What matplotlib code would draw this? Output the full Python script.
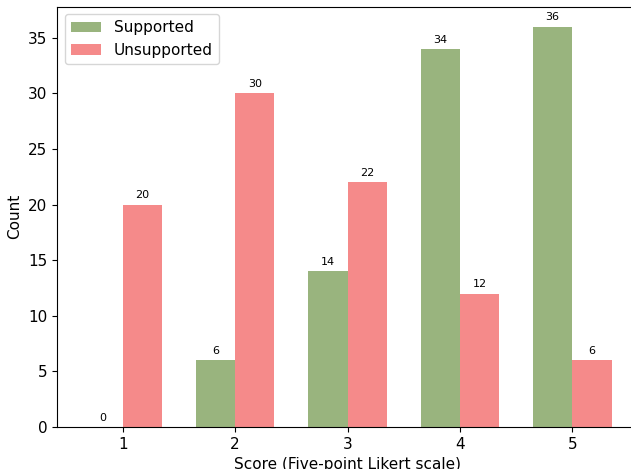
import matplotlib.pyplot as plt
import numpy as np

scores = [1, 2, 3, 4, 5]
supported = [0, 6, 14, 34, 36]
unsupported = [20, 30, 22, 12, 6]

x = np.array(scores)
width = 0.35

fig, ax = plt.subplots(figsize=(6.31, 4.69), dpi=100)
b1 = ax.bar(x - width / 2, supported, width, label='Supported', color='#99b47e')
b2 = ax.bar(x + width / 2, unsupported, width, label='Unsupported', color='#f58a8a')

# value labels above each bar
for bars in (b1, b2):
    for bar in bars:
        h = bar.get_height()
        ax.annotate(str(int(h)), xy=(bar.get_x() + bar.get_width() / 2, h),
                    xytext=(0, 3), textcoords='offset points',
                    ha='center', va='bottom', fontsize=8)

ax.set_xticks(x)
ax.set_xticklabels([str(s) for s in scores], fontsize=11)
ax.tick_params(axis='y', labelsize=11)
ax.set_xlabel('Score (Five-point Likert scale)', fontsize=11)
ax.set_ylabel('Count', fontsize=11)
ax.legend(loc='upper left', fontsize=11)

# the original image is cropped on the right and bottom
fig.subplots_adjust(left=0.0905, right=1.011, top=0.986, bottom=0.0896)
fig.savefig('out.png', dpi=100)
